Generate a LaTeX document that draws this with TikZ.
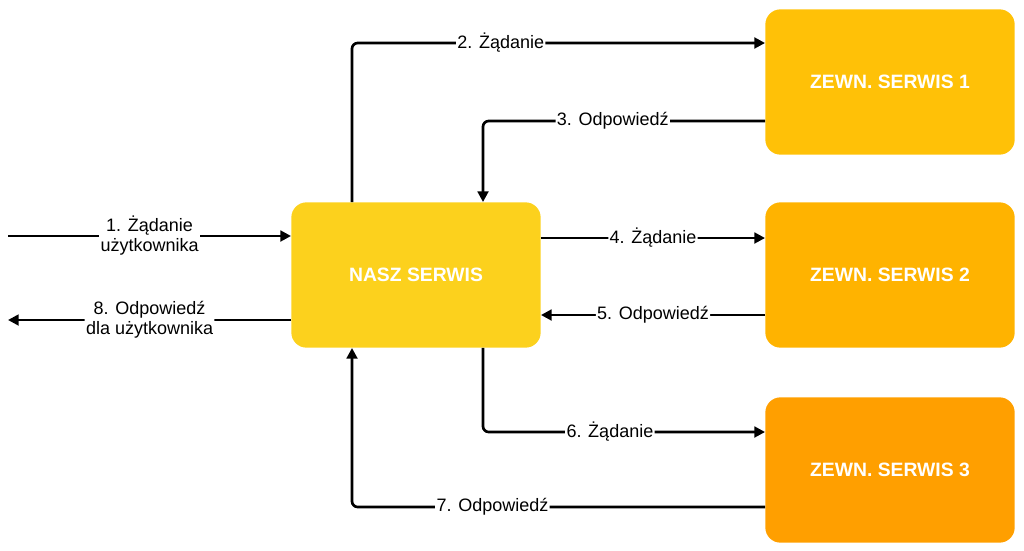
\documentclass[tikz,border=0pt]{standalone}
\usepackage{fontspec}
\setmainfont{Liberation Sans}
\usetikzlibrary{positioning}
\usetikzlibrary{arrows.meta}
\definecolor{naszc}{HTML}{FCD11D}
\definecolor{zewna}{HTML}{FFC107}
\definecolor{zewnb}{HTML}{FFB300}
\definecolor{zewnc}{HTML}{FF9F00}
\begin{document}
\begin{tikzpicture}[
    x = .75pt,
    y = -.75pt,
    font = \fontsize{13.5}{15}\selectfont,
    serwis/.style = {
      rectangle,
      rounded corners=4mm,
      minimum width=187pt,
      minimum height=109pt,
      text=white,
      font=\fontsize{14.5}{16}\selectfont\bfseries
    },
    strz/.style = {
      -{Triangle[length=8pt,width=8pt]},
      line width=2pt,
      rounded corners=1.5mm
    },
    opis/.style = {
      fill=white,
      inner sep=1pt,
      align=center
    }
  ]
    \useasboundingbox (0,0) rectangle (1024,550);
    \node[serwis, fill=naszc] (nasz) at (416,275) {NASZ SERWIS};
    \node[serwis, fill=zewna] (zew1) at (890,82) {ZEWN. SERWIS 1};
    \node[serwis, fill=zewnb] (zew2) at (890,275) {ZEWN. SERWIS 2};
    \node[serwis, fill=zewnc] (zew3) at (890,470) {ZEWN. SERWIS 3};
    \coordinate (wej) at (8,236);
    \coordinate (wyj) at (8,320);
    % uzytkownik
    \draw[strz] (wej) -- (wej -| nasz.west)
      node[opis, pos=.5] {1. Żądanie\\użytkownika};
    \draw[strz] (wyj -| nasz.west) -- (wyj)
      node[opis, pos=.5] {8. Odpowiedź\\dla użytkownika};
    % serwis 1
    \draw[strz] (nasz.north -| 352,0) -- (352,43) -- (352,43 -| zew1.west)
      node[opis, pos=.36] {2. Żądanie};
    \draw[strz] (zew1.west |- 0,121) -- node[opis, pos=.54] {3. Odpowiedź}
      (483,121) -- (nasz.north -| 483,0);
    % serwis 2
    \draw[strz] (nasz.east |- 0,238) -- (zew2.west |- 0,238)
      node[opis, pos=.5] {4. Żądanie};
    \draw[strz] (zew2.west |- 0,315) -- (nasz.east |- 0,315)
      node[opis, pos=.5] {5. Odpowiedź};
    % serwis 3
    \draw[strz] (nasz.south -| 483,0) -- (483,432) -- (zew3.west |- 0,432)
      node[opis, pos=.45] {6. Żądanie};
    \draw[strz] (zew3.west |- 0,507) -- node[opis, pos=.66] {7. Odpowiedź}
      (352,507) -- (nasz.south -| 352,0);
  \end{tikzpicture}
\end{document}
